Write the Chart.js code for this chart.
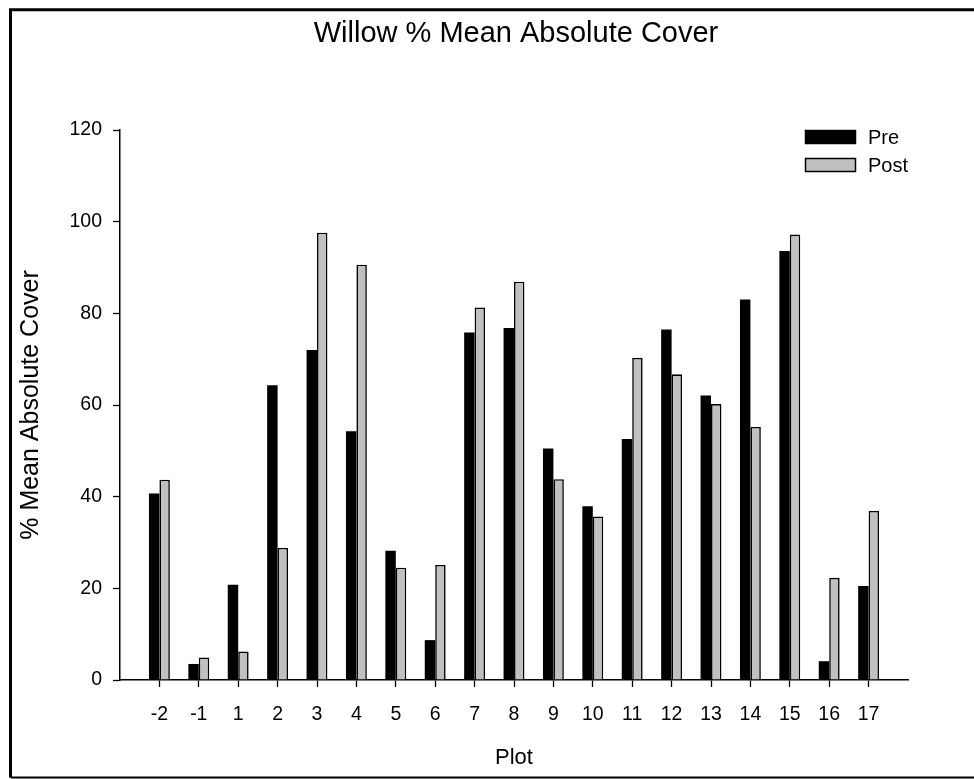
<!DOCTYPE html>
<html>
<head>
<meta charset="utf-8">
<script src="https://cdn.jsdelivr.net/npm/chart.js@4/dist/chart.umd.min.js"></script>
<style>
  html, body { margin: 0; padding: 0; background: #fff; }
  #wrap { width: 974px; height: 779px; }
</style>
</head>
<body>
<div id="wrap"><canvas id="c" width="974" height="779"></canvas></div>
<script>
// ---- data ----
const categories = ['-2', '-1', '1', '2', '3', '4', '5', '6', '7', '8', '9', '10', '11', '12', '13', '14', '15', '16', '17'];
const preValues  = [40.7, 3.5, 20.8, 64.3, 72.0, 54.3, 28.2, 8.7, 75.8, 76.8, 50.5, 37.9, 52.6, 76.5, 62.1, 83.0, 93.6, 4.1, 20.5];
const postValues = [43.7, 4.9, 6.2, 28.8, 97.6, 90.6, 24.5, 25.1, 81.3, 86.9, 43.8, 35.7, 70.3, 66.7, 60.2, 55.2, 97.2, 22.3, 36.9];
const yTickValues = [0, 20, 40, 60, 80, 100, 120];
const seriesNames = ['Pre', 'Post'];
const titleText = 'Willow % Mean Absolute Cover';
const xTitle = 'Plot';
const yTitle = '% Mean Absolute Cover';

// one empty slot on each side of the categories (axis runs one slot past first/last plot)
const labels = [''].concat(categories, ['']);
const padData = arr => [null].concat(arr, [null]);

const FONT = "'Liberation Sans', Arial, Helvetica, sans-serif";
Chart.defaults.font.family = FONT;
Chart.defaults.color = '#000';

const framePlugin = {
  id: 'frame',
  beforeDraw(chart) {
    const ctx = chart.ctx;
    ctx.save();
    ctx.fillStyle = '#fff';
    ctx.fillRect(0, 0, chart.width, chart.height);
    ctx.restore();
  },
  afterDraw(chart) {
    const ctx = chart.ctx;
    ctx.save();
    // title text
    ctx.fillStyle = '#000';
    ctx.font = "29px " + FONT;
    ctx.textAlign = 'center';
    ctx.textBaseline = 'middle';
    ctx.fillText(titleText, 516, 34);
    // outer frame
    ctx.strokeStyle = '#000';
    ctx.lineWidth = 3;
    ctx.beginPath();
    ctx.moveTo(chart.width + 2, 9.8);
    ctx.lineTo(10.5, 9.8);
    ctx.lineTo(10.5, 777.5);
    ctx.stroke();
    ctx.lineWidth = 2;
    ctx.beginPath();
    ctx.moveTo(10.5, 777.5);
    ctx.lineTo(chart.width + 2, 777.5);
    ctx.stroke();
    ctx.restore();
  }
};

const legendPlugin = {
  id: 'boxLegend',
  afterDraw(chart) {
    const ctx = chart.ctx;
    ctx.save();
    chart.data.datasets.forEach((ds, i) => {
      const y = 130 + 28 * i;
      ctx.fillStyle = ds.backgroundColor;
      ctx.fillRect(805, y, 51, 14);
      ctx.strokeStyle = '#000';
      ctx.lineWidth = 1.5;
      ctx.strokeRect(805.5, y + 0.5, 50, 13);
      ctx.fillStyle = '#000';
      ctx.font = "20px " + FONT;
      ctx.textBaseline = 'middle';
      ctx.textAlign = 'left';
      ctx.fillText(ds.label, 868, y + 8);
    });
    ctx.restore();
  }
};

new Chart(document.getElementById('c'), {
  type: 'bar',
  data: {
    labels: labels,
    datasets: [
      {
        label: seriesNames[0],
        data: padData(preValues),
        backgroundColor: '#000000',
        borderColor: '#000000',
        borderWidth: 0
      },
      {
        label: seriesNames[1],
        data: padData(postValues),
        backgroundColor: '#c0c0c0',
        borderColor: '#000000',
        borderWidth: 1.6,
        borderSkipped: 'start'
      }
    ]
  },
  options: {
    responsive: false,
    animation: false,
    devicePixelRatio: 1,
    categoryPercentage: 0.53,
    barPercentage: 1.0,
    layout: { padding: { left: 0, right: 66, top: 130, bottom: 0 } },
    plugins: {
      legend: { display: false },
      tooltip: { enabled: false },
      title: { display: false }
    },
    scales: {
      x: {
        type: 'category',
        offset: false,
        grid: {
          offset: false,
          drawOnChartArea: false,
          drawTicks: true,
          tickLength: 7,
          tickWidth: 1.3,
          tickColor: (c) => (c.index === 0 || c.index === labels.length - 1) ? 'rgba(0,0,0,0)' : '#000'
        },
        border: { display: true, color: '#000', width: 1.5 },
        ticks: {
          autoSkip: false,
          maxRotation: 0,
          minRotation: 0,
          padding: 16,
          color: '#000',
          font: { size: 19.5, family: FONT }
        },
        title: {
          display: true,
          text: xTitle,
          color: '#000',
          font: { size: 22, family: FONT },
          padding: { top: 0, bottom: 8 }
        },
        afterFit: (s) => { s.height = 99; }
      },
      y: {
        min: 0,
        max: 120,
        afterBuildTicks: (s) => { s.ticks = yTickValues.map(v => ({ value: v })); },
        grid: {
          drawOnChartArea: false,
          drawTicks: true,
          tickLength: 7,
          tickWidth: 1.3,
          tickColor: '#000'
        },
        border: { display: true, color: '#000', width: 1.5 },
        ticks: {
          padding: 11,
          color: '#000',
          font: { size: 19.5, family: FONT }
        },
        title: {
          display: true,
          text: yTitle,
          color: '#000',
          font: { size: 25, family: FONT },
          padding: { top: 16, bottom: 0 }
        },
        afterFit: (s) => { s.width = 120; }
      }
    }
  },
  plugins: [framePlugin, legendPlugin]
});
</script>
</body>
</html>
